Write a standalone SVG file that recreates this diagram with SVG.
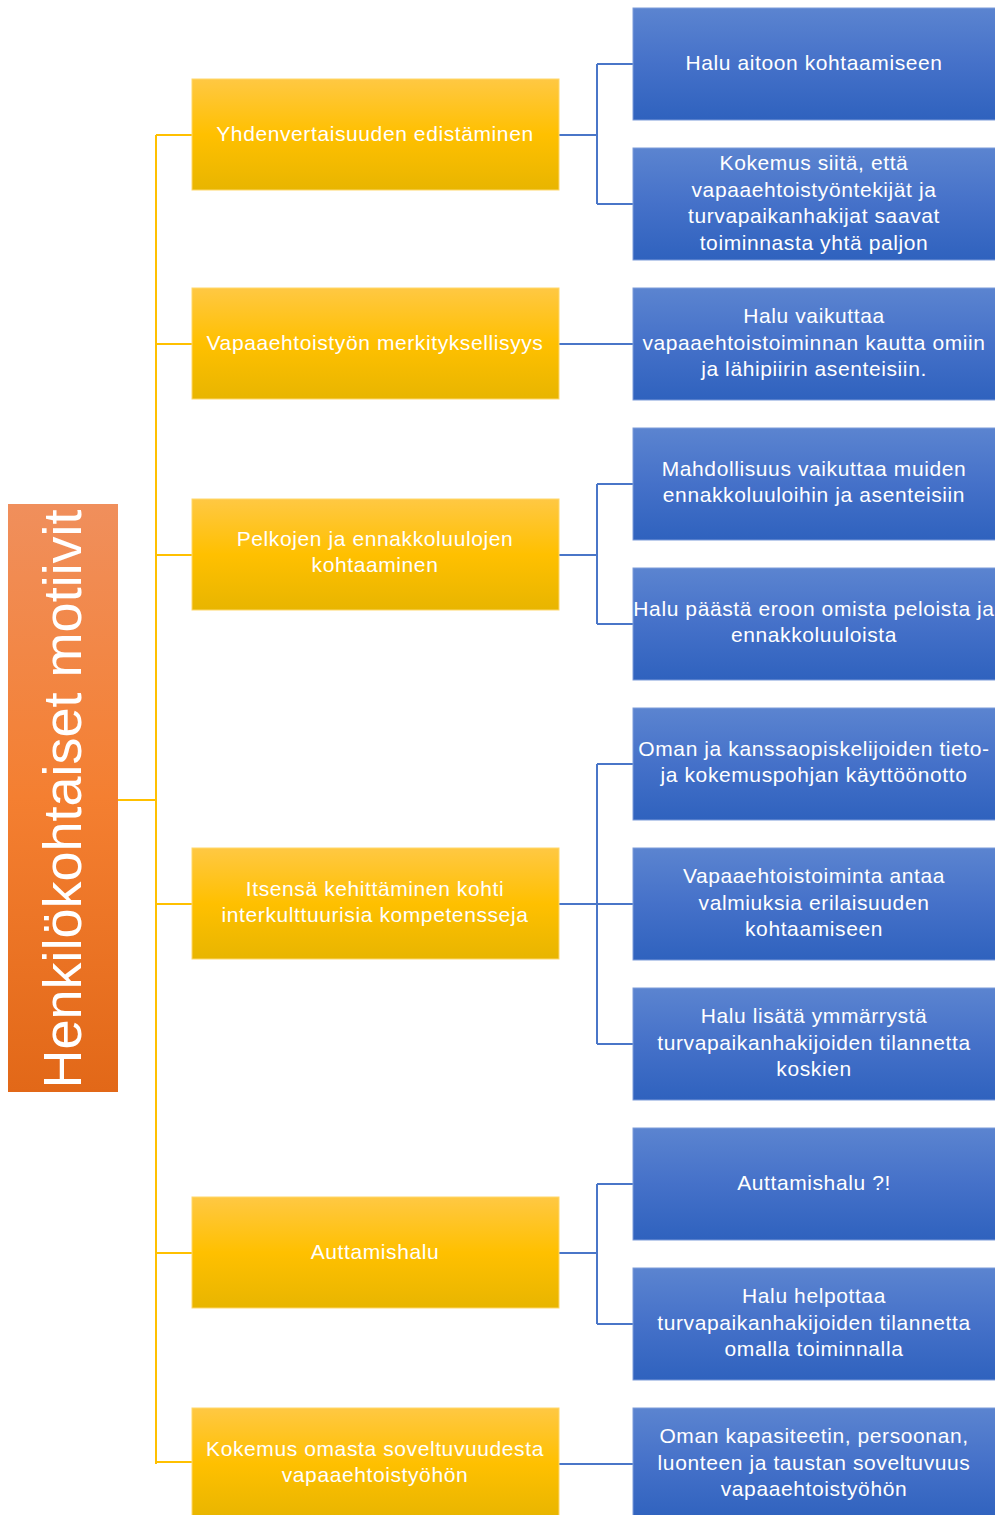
<svg xmlns="http://www.w3.org/2000/svg" width="995" height="1515" viewBox="0 0 995 1515">
<defs>
<linearGradient id="gO" x1="0" y1="0" x2="0" y2="1"><stop offset="0" stop-color="#F08F5C"/><stop offset="0.5" stop-color="#F47F31"/><stop offset="1" stop-color="#E26818"/></linearGradient>
<linearGradient id="gY" x1="0" y1="0" x2="0" y2="1"><stop offset="0" stop-color="#FFC843"/><stop offset="0.5" stop-color="#FFC000"/><stop offset="1" stop-color="#E8B500"/></linearGradient>
<linearGradient id="gB" x1="0" y1="0" x2="0" y2="1"><stop offset="0" stop-color="#5B84D0"/><stop offset="0.5" stop-color="#4571C9"/><stop offset="1" stop-color="#2F62BE"/></linearGradient>
<style>
.y{fill:url(#gY);stroke:#FFD76A;stroke-width:1}
.b{fill:url(#gB);stroke:#7C9BDA;stroke-width:1}
.t{font-family:"Liberation Sans",Arial,sans-serif;font-size:21px;letter-spacing:0.6px;fill:#FFFFFF;text-anchor:middle}
.cy{stroke:#FFC000;stroke-width:2;fill:none}
.cb{stroke:#4A76C8;stroke-width:2;fill:none}
</style>
</defs>
<rect width="995" height="1515" fill="#FFFFFF"/>
<g id="connectors">
<path class="cy" d="M118 800H156M156 135V1464M156 135H192M156 344H192M156 555H192M156 904H192M156 1253H192M156 1462H192"/>
<path class="cb" d="M559 135H597M597 64V204M597 64H633M597 204H633"/>
<path class="cb" d="M559 344H633"/>
<path class="cb" d="M559 555H597M597 484V624M597 484H633M597 624H633"/>
<path class="cb" d="M559 904H597M597 764V1044M597 764H633M597 904H633M597 1044H633"/>
<path class="cb" d="M559 1253H597M597 1184V1324M597 1184H633M597 1324H633"/>
<path class="cb" d="M559 1464H633"/>
</g>
<g id="root">
<rect x="8" y="504" width="110" height="588" fill="url(#gO)"/>
<text transform="translate(81,799) rotate(-90)" font-family="Liberation Sans,Arial,sans-serif" font-size="54" fill="#FFFFFF" text-anchor="middle">Henkilökohtaiset motiivit</text>
</g>
<g id="y1"><rect class="y" x="192" y="79" width="367" height="111"/><text class="t" x="375" y="141">Yhdenvertaisuuden edistäminen</text></g>
<g id="y2"><rect class="y" x="192" y="288" width="367" height="111"/><text class="t" x="375" y="350">Vapaaehtoistyön merkityksellisyys</text></g>
<g id="y3"><rect class="y" x="192" y="499" width="367" height="111"/><text class="t" x="375" y="546">Pelkojen ja ennakkoluulojen</text><text class="t" x="375" y="572">kohtaaminen</text></g>
<g id="y4"><rect class="y" x="192" y="848" width="367" height="111"/><text class="t" x="375" y="896">Itsensä kehittäminen kohti</text><text class="t" x="375" y="922">interkulttuurisia kompetensseja</text></g>
<g id="y5"><rect class="y" x="192" y="1197" width="367" height="111"/><text class="t" x="375" y="1259">Auttamishalu</text></g>
<g id="y6"><rect class="y" x="192" y="1408" width="367" height="111"/><text class="t" x="375" y="1456">Kokemus omasta soveltuvuudesta</text><text class="t" x="375" y="1482">vapaaehtoistyöhön</text></g>
<g id="b1"><rect class="b" x="633" y="8" width="363" height="112"/><text class="t" x="814" y="70">Halu aitoon kohtaamiseen</text></g>
<g id="b2"><rect class="b" x="633" y="148" width="363" height="112"/><text class="t" x="814" y="170">Kokemus siitä, että</text><text class="t" x="814" y="197">vapaaehtoistyöntekijät ja</text><text class="t" x="814" y="223">turvapaikanhakijat saavat</text><text class="t" x="814" y="250">toiminnasta yhtä paljon</text></g>
<g id="b3"><rect class="b" x="633" y="288" width="363" height="112"/><text class="t" x="814" y="323">Halu vaikuttaa</text><text class="t" x="814" y="350">vapaaehtoistoiminnan kautta omiin</text><text class="t" x="814" y="376">ja lähipiirin asenteisiin.</text></g>
<g id="b4"><rect class="b" x="633" y="428" width="363" height="112"/><text class="t" x="814" y="476">Mahdollisuus vaikuttaa muiden</text><text class="t" x="814" y="502">ennakkoluuloihin ja asenteisiin</text></g>
<g id="b5"><rect class="b" x="633" y="568" width="363" height="112"/><text class="t" x="814" y="616">Halu päästä eroon omista peloista ja</text><text class="t" x="814" y="642">ennakkoluuloista</text></g>
<g id="b6"><rect class="b" x="633" y="708" width="363" height="112"/><text class="t" x="814" y="756">Oman ja kanssaopiskelijoiden tieto-</text><text class="t" x="814" y="782">ja kokemuspohjan käyttöönotto</text></g>
<g id="b7"><rect class="b" x="633" y="848" width="363" height="112"/><text class="t" x="814" y="883">Vapaaehtoistoiminta antaa</text><text class="t" x="814" y="910">valmiuksia erilaisuuden</text><text class="t" x="814" y="936">kohtaamiseen</text></g>
<g id="b8"><rect class="b" x="633" y="988" width="363" height="112"/><text class="t" x="814" y="1023">Halu lisätä ymmärrystä</text><text class="t" x="814" y="1050">turvapaikanhakijoiden tilannetta</text><text class="t" x="814" y="1076">koskien</text></g>
<g id="b9"><rect class="b" x="633" y="1128" width="363" height="112"/><text class="t" x="814" y="1190">Auttamishalu ?!</text></g>
<g id="b10"><rect class="b" x="633" y="1268" width="363" height="112"/><text class="t" x="814" y="1303">Halu helpottaa</text><text class="t" x="814" y="1330">turvapaikanhakijoiden tilannetta</text><text class="t" x="814" y="1356">omalla toiminnalla</text></g>
<g id="b11"><rect class="b" x="633" y="1408" width="363" height="112"/><text class="t" x="814" y="1443">Oman kapasiteetin, persoonan,</text><text class="t" x="814" y="1470">luonteen ja taustan soveltuvuus</text><text class="t" x="814" y="1496">vapaaehtoistyöhön</text></g>
</svg>
